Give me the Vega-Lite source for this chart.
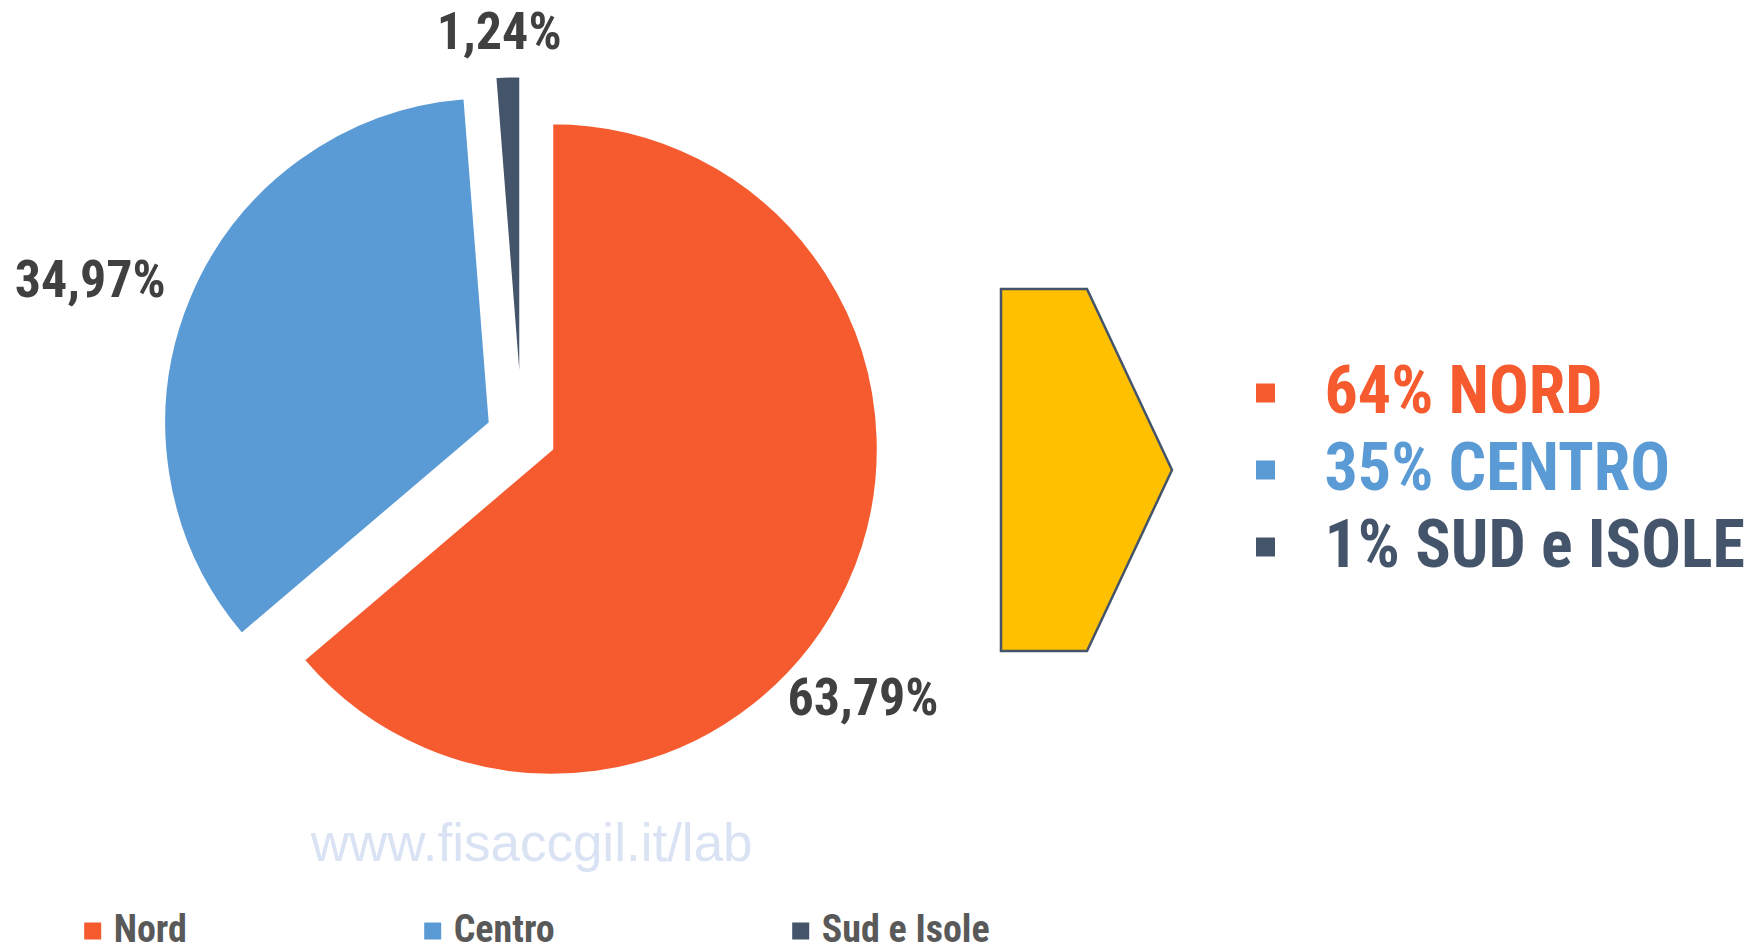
{
  "$schema": "https://vega.github.io/schema/vega-lite/v6.json",
  "width": 1104,
  "height": 898,
  "autosize": {"type": "none"},
  "padding": {"left": 0, "top": 0, "right": 658, "bottom": 50},
  "background": "white",
  "config": {
    "view": {"stroke": null},
    "locale": {"number": {"decimal": ",", "thousands": ".", "grouping": [3], "currency": ["€", ""]}},
    "legend": {"padding": 0}
  },
  "data": {"values": [
    {"region": "Nord", "share": 0.6379, "summary": "64% NORD"},
    {"region": "Centro", "share": 0.3497, "summary": "35% CENTRO"},
    {"region": "Sud e Isole", "share": 0.0124, "summary": "1% SUD e ISOLE"}
  ]},
  "layer": [
    {
      "mark": {
        "type": "arc",
        "outerRadius": 326,
        "strokeWidth": 0,
        "xOffset": {"expr": "datum.region === 'Centro' ? -62 : datum.region === 'Sud e Isole' ? -31.5 : 0"},
        "yOffset": {"expr": "datum.region === 'Centro' ? -26 : datum.region === 'Sud e Isole' ? -47 : 0"}
      },
      "encoding": {
        "theta": {"field": "share", "type": "quantitative", "stack": true, "scale": {"domain": [0, 1]}},
        "order": {"field": "share", "type": "quantitative", "sort": "descending"},
        "color": {
          "field": "region", "type": "nominal",
          "scale": {"domain": ["Nord", "Centro", "Sud e Isole"], "range": ["#F55B2F", "#5B9BD5", "#44546A"]},
          "legend": {
            "orient": "none", "legendX": 73.7, "legendY": 819, "direction": "horizontal",
            "title": "www.fisaccgil.it/lab", "titleFont": "Liberation Sans", "titleFontSize": 53,
            "titleFontWeight": "normal", "titleColor": "#DAE3F3", "titleAnchor": "middle",
            "titlePadding": 40, "titleLimit": 1000,
            "symbolType": "square", "symbolSize": 289, "symbolStrokeWidth": 0,
            "labelFont": "Roboto Condensed, DejaVu Sans Condensed, Liberation Sans, sans-serif", "labelFontSize": 38, "labelFontWeight": "bold",
            "labelColor": "#595959", "labelOffset": 2, "labelLimit": 400, "columnPadding": 226, "padding": 0
          }
        },
        "stroke": {
          "field": "summary", "type": "nominal",
          "scale": {"domain": ["64% NORD", "35% CENTRO", "1% SUD e ISOLE"], "range": ["#F55B2F", "#5B9BD5", "#44546A"]},
          "legend": {
            "orient": "none", "legendX": 1232.5, "legendY": 360, "direction": "vertical", "title": null,
            "symbolType": "square", "symbolSize": 361, "symbolStrokeWidth": 0, "symbolOpacity": 1,
            "symbolFillColor": {"expr": "scale('stroke', datum.value)"},
            "labelColor": {"expr": "scale('stroke', datum.value)"},
            "labelFont": "Roboto Condensed, DejaVu Sans Condensed, Liberation Sans, sans-serif", "labelFontSize": 66, "labelFontWeight": "bold",
            "labelOffset": 26, "labelLimit": 800, "rowPadding": 11, "padding": 0,
            "encode": {"labels": {"dy": {"value": 3.4}}}
          }
        }
      }
    },
    {
      "mark": {
        "type": "arc",
        "outerRadius": 326,
        "fill": "transparent",
        "stroke": "white",
        "strokeWidth": 2.5,
        "xOffset": {"expr": "datum.region === 'Centro' ? -62 : datum.region === 'Sud e Isole' ? -31.5 : 0"},
        "yOffset": {"expr": "datum.region === 'Centro' ? -26 : datum.region === 'Sud e Isole' ? -47 : 0"}
      },
      "encoding": {
        "theta": {"field": "share", "type": "quantitative", "stack": true},
        "order": {"field": "share", "type": "quantitative", "sort": "descending"}
      }
    },
    {
      "mark": {
        "type": "text", "radius": 380, "font": "Roboto Condensed, DejaVu Sans Condensed, Liberation Sans, sans-serif", "fontSize": 52, "fontWeight": "bold",
        "color": "#404040", "align": "center", "baseline": "middle",
        "xOffset": {"expr": "datum.region === 'Nord' ? -34 : datum.region === 'Centro' ? -111 : -38"},
        "yOffset": {"expr": "datum.region === 'Nord' ? 90 : datum.region === 'Centro' ? -22 : -36"}
      },
      "encoding": {
        "theta": {"field": "share", "type": "quantitative", "stack": true},
        "order": {"field": "share", "type": "quantitative", "sort": "descending"},
        "text": {"field": "share", "type": "quantitative", "format": ".2%"}
      }
    },
    {
      "data": {"values": [{}]},
      "mark": {
        "type": "point", "shape": "M-0.4724,-1L0.0028,-1L0.4724,0L0.0028,1L-0.4724,1Z", "size": 131044,
        "filled": true, "fill": "#FFC000", "stroke": "#44546A", "strokeWidth": 2.5, "opacity": 1,
        "x": 1086.5, "y": 470
      },
      "encoding": {}
    }
  ]
}
